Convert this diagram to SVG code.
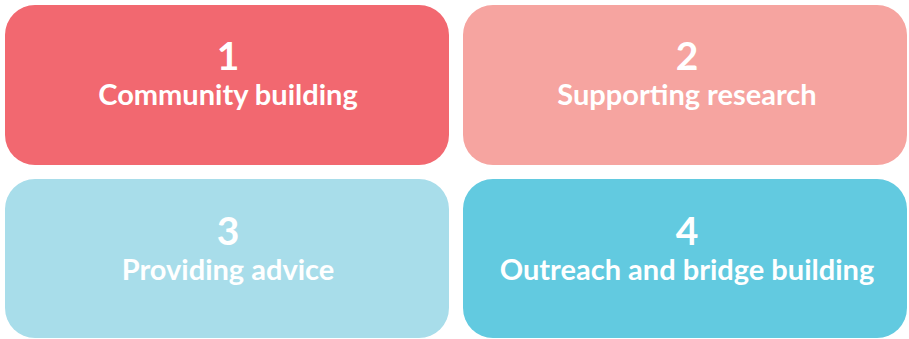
<svg xmlns="http://www.w3.org/2000/svg" width="909" height="339" viewBox="0 0 909 339">
<style>
.num{font-family:Lato,"Liberation Sans",sans-serif;font-weight:bold;font-size:39px;fill:#fff;text-anchor:middle}
.lbl{font-family:Lato,"Liberation Sans",sans-serif;font-weight:bold;font-size:29px;fill:#fff;text-anchor:middle}
</style>
<rect width="909" height="339" fill="#fff"/>
<g id="node1">
<rect x="5" y="5" width="444" height="160" rx="30" fill="#F26870"/>
<text class="num" x="228" y="70">1</text>
<text class="lbl" x="228" y="105">Community building</text>
</g>
<g id="node2">
<rect x="463" y="5" width="444" height="160" rx="30" fill="#F6A4A0"/>
<text class="num" x="687" y="70">2</text>
<text class="lbl" x="687" y="105">Supporting research</text>
</g>
<g id="node3">
<rect x="5" y="179" width="444" height="159" rx="30" fill="#A8DDEA"/>
<text class="num" x="228" y="245">3</text>
<text class="lbl" x="228" y="280">Providing advice</text>
</g>
<g id="node4">
<rect x="463" y="179" width="444" height="159" rx="30" fill="#62CAE0"/>
<text class="num" x="687" y="245">4</text>
<text class="lbl" x="687" y="280">Outreach and bridge building</text>
</g>
<g id="connectors"></g>
</svg>
